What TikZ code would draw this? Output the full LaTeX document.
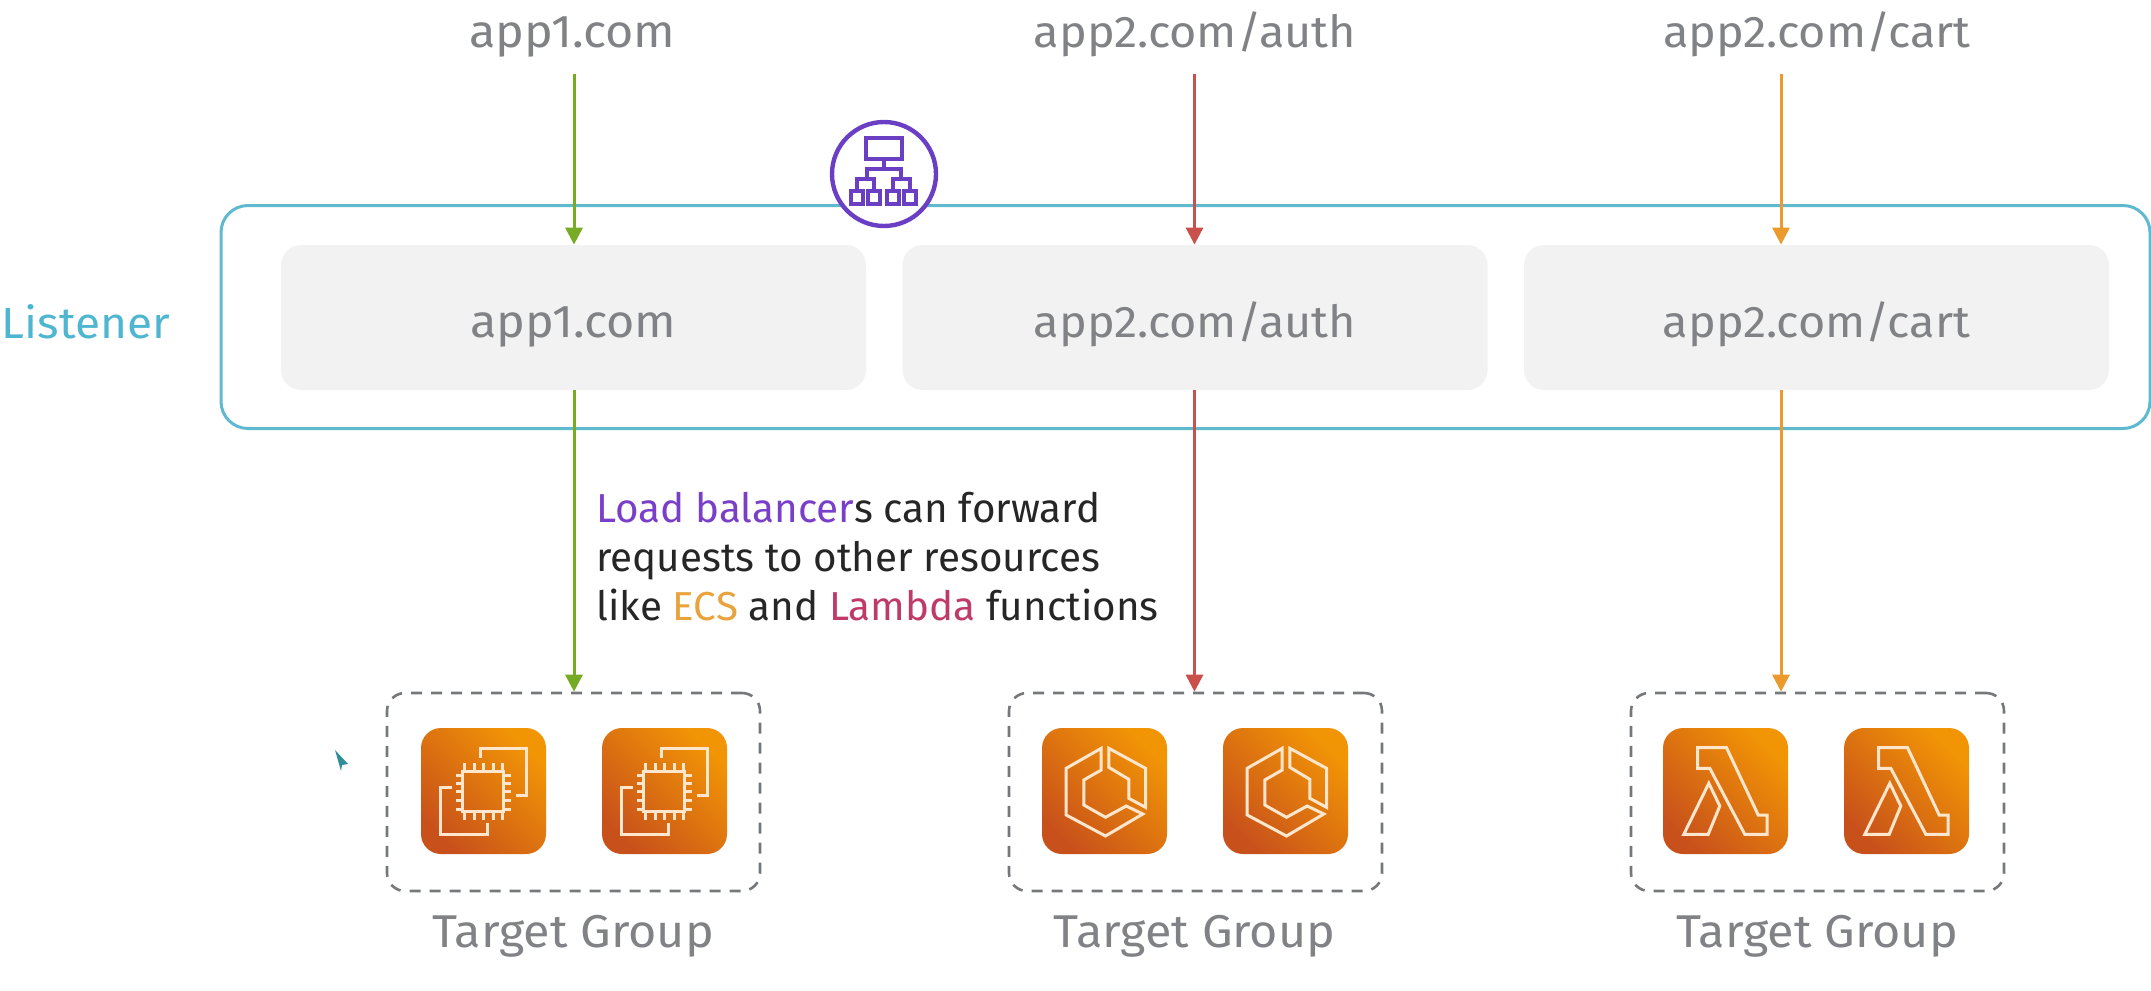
\documentclass[tikz,border=0pt]{standalone}
\usepackage{fontspec}
\setmainfont{Fira Sans}
\newfontfamily\lblfont[FakeStretch=1.055]{Fira Sans}
\usetikzlibrary{arrows.meta}
\definecolor{lblgray}{HTML}{808285}
\definecolor{lisblue}{HTML}{4FB6D2}
\definecolor{boxblue}{HTML}{5FB9CF}
\definecolor{panel}{HTML}{F2F2F2}
\definecolor{dashgray}{HTML}{75787B}
\definecolor{lbpurple}{HTML}{6B3FC4}
\definecolor{txtpurple}{HTML}{7A3FC8}
\definecolor{txtorange}{HTML}{E8A33C}
\definecolor{txtred}{HTML}{BF3A66}
\definecolor{argreen}{HTML}{76AB23}
\definecolor{arred}{HTML}{C9504B}
\definecolor{arorange}{HTML}{EC9A2B}
\definecolor{awsdark}{HTML}{C8511B}
\definecolor{awslight}{HTML}{F29505}
\definecolor{glyph}{HTML}{FFE6CC}
\definecolor{cursorteal}{HTML}{2F8F98}
\tikzset{
  lbl/.style={font=\lblfont\fontsize{23}{27}\selectfont, text=lblgray, inner sep=0pt},
  narrowlbl/.style={font=\lblfont\fontsize{22.2}{27}\selectfont},
  toplabel/.style={lbl, anchor=base, text depth=13pt},
  tglabel/.style={lbl, anchor=base},
  panelbox/.style={lbl, fill=panel, rounded corners=10pt, minimum width=292.5pt, minimum height=72.5pt, text height=23pt, text depth=3.5pt},
  listenerbox/.style={draw=boxblue, line width=1.5pt, rounded corners=13.5pt, minimum width=964.5pt, minimum height=111.5pt, inner sep=0pt},
  tgbox/.style={draw=dashgray, line width=1.3pt, dash pattern=on 5.5pt off 4.5pt, rounded corners=9pt, minimum width=186.5pt, minimum height=99pt, inner sep=0pt},
  iconbox/.style={shading=axis, left color=awsdark, right color=awslight, shading angle=135, rounded corners=10pt, minimum width=62.5pt, minimum height=63pt, inner sep=0pt},
  flow/.style={line width=1.5pt, -{Triangle[length=8.5pt,width=8.5pt]}},
  glyphline/.style={draw=glyph, line width=1.5pt, line join=miter},
  lbline/.style={draw=lbpurple, line width=2pt},
  ec2icon/.pic={
    \draw[glyphline] (-3.3,-33)--(-3.3,-42.7)--(42.7,-42.7)--(42.7,4)--(32,4);
    \draw[glyphline] (-31.7,-3.7)--(-43.3,-3.7)--(-43.3,43)--(4,43)--(4,32.3);
    \draw[glyphline] (-21,-20) rectangle (20,20);
    \foreach \p in {-19,-9.5,0,9.5,18.5} {
      \draw[glyphline] (\p,-28)--(\p,-20);
      \draw[glyphline] (\p,20)--(\p,29);
    }
    \foreach \p in {-16,-8,0,9,18} {
      \draw[glyphline] (-28,\p)--(-21,\p);
      \draw[glyphline] (20,\p)--(27,\p);
    }
  },
  ecsicon/.pic={
    \draw[glyphline] (-3.3,-42.7)--(-38.3,-22.7)--(-38.3,24)--(1,45)--(38.3,23)--(21.7,15)--(1,26.3)--(-20.7,14)--(-20.7,-11)--(-3.3,-21)--cycle;
    \draw[glyphline] (4.3,-42.7)--(41,-22.7)--(41,16.3)--(24.3,7.3)--(24.3,-11.7)--(4.3,-23.7)--cycle;
  },
  lambdaicon/.pic={
    \draw[glyphline] (-28,-43.3)--(1,-43.3)--(32.7,24)--(41.7,24)--(41.7,43.3)--(19.3,43.3)--(-15.7,-22.7)--(-28,-22.7)--cycle;
    \draw[glyphline] (-16.7,-7.7)--(-5.7,15)--(-17.3,43.3)--(-41.7,43.3)--cycle;
  },
}
\begin{document}
\begin{tikzpicture}[x=0.5pt,y=-0.5pt]
\useasboundingbox (0,0) rectangle (2151,990);
% columns of the arrows
\coordinate (a1) at (574,0);
\coordinate (a2) at (1194.5,0);
\coordinate (a3) at (1781,0);
% listener
\node[listenerbox] (listener) at (1185.5,317) {};
\node[font=\lblfont\fontsize{21.8}{27}\selectfont, text=lisblue, inner sep=0pt, anchor=base] (listenerlbl) at (86,338) {Listener};
\node[panelbox] (r1) at (573.5,317.5) {app1.com};
\node[panelbox, narrowlbl] (r2) at (1195,317.5) {app2.com/auth};
\node[panelbox, narrowlbl] (r3) at (1816.5,317.5) {app2.com/cart};
% top labels
\node[toplabel] (t1) at (572.5,48) {app1.com};
\node[toplabel, narrowlbl] (t2) at (1195,48) {app2.com/auth};
\node[toplabel, narrowlbl] (t3) at (1817,48) {app2.com/cart};
% target groups
\node[tgbox] (g1) at (573.5,792) {};
\node[tgbox] (g2) at (1195.5,792) {};
\node[tgbox] (g3) at (1817.5,792) {};
\node[tglabel] (l1) at (573,947) {Target Group};
\node[tglabel] (l2) at (1194.5,947) {Target Group};
\node[tglabel] (l3) at (1817,947) {Target Group};
% icons
\node[iconbox] (i1a) at (483.5,791) {};
\node[iconbox] (i1b) at (664.5,791) {};
\node[iconbox] (i2a) at (1104.5,791) {};
\node[iconbox] (i2b) at (1285.5,791) {};
\node[iconbox] (i3a) at (1725.5,791) {};
\node[iconbox] (i3b) at (1906.5,791) {};
\pic at (i1a) {ec2icon};
\pic at (i1b) {ec2icon};
\pic at (i2a) {ecsicon};
\pic at (i2b) {ecsicon};
\pic at (i3a) {lambdaicon};
\pic at (i3b) {lambdaicon};
% arrows
\draw[flow, argreen] (a1 |- t1.south) -- (a1 |- r1.north);
\draw[flow, arred] (a2 |- t2.south) -- (a2 |- r2.north);
\draw[flow, arorange] (a3 |- t3.south) -- (a3 |- r3.north);
\draw[flow, argreen] (a1 |- r1.south) -- (a1 |- g1.north);
\draw[flow, arred] (a2 |- r2.south) -- (a2 |- g2.north);
\draw[flow, arorange] (a3 |- r3.south) -- (a3 |- g3.north);
% annotation
\node[anchor=north west, align=left, inner sep=0pt, text=black!85, font=\fontsize{20.2}{24.5}\selectfont] (note) at (596,492)
  {\textcolor{txtpurple}{Load balancer}s can forward\\requests to other resources\\like \textcolor{txtorange}{ECS} and \textcolor{txtred}{Lambda} functions};
% load balancer icon
\node[circle, draw=lbpurple, fill=white, line width=2.2pt, minimum size=52pt, inner sep=0pt] (lb) at (884,174) {};
\draw[lbline] (866,138) rectangle (902,159);
\draw[lbline] (884,159)--(884,169);
\draw[lbline] (867,179)--(867,169)--(901,169)--(901,179);
\draw[lbline] (857,190)--(857,179)--(874,179)--(874,190);
\draw[lbline] (893,190)--(893,179)--(910,179)--(910,190);
\foreach \p in {857,874,893,910} \draw[lbline] (\p-6,191) rectangle (\p+6,204);
% mouse pointer
\fill[cursorteal] (335,750)--(348,764)--(342,765)--(341,771)--cycle;
\end{tikzpicture}
\end{document}
